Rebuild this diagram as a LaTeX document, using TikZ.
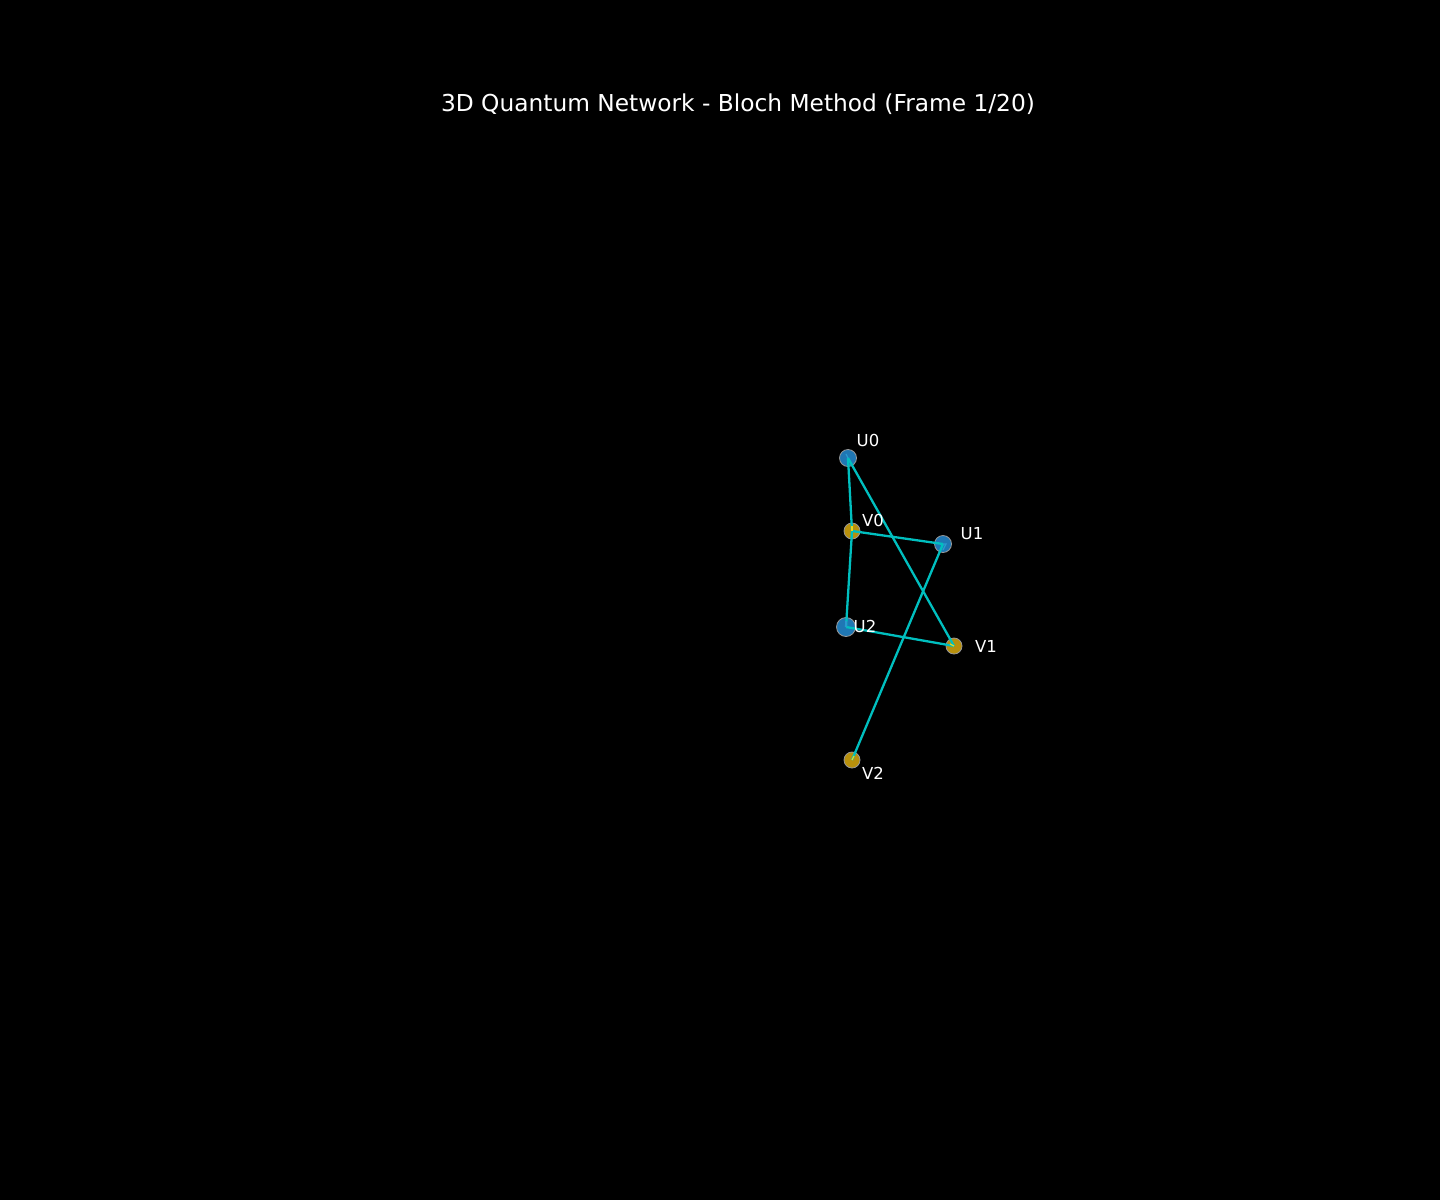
\documentclass[tikz,border=0pt]{standalone}
\usepackage{fontspec}
\setmainfont{DejaVu Sans}
\definecolor{edgec}{HTML}{00BFBF}
\definecolor{ublue}{HTML}{1F77B4}
\definecolor{vgold}{HTML}{B8900C}
\begin{document}
\begin{tikzpicture}[x=1pt,y=-1pt,
  unode/.style={circle,fill=ublue,draw=gray!80,line width=0.8pt,minimum size=17pt,inner sep=0pt},
  vnode/.style={circle,fill=vgold,draw=gray!80,line width=0.8pt,minimum size=16pt,inner sep=0pt},
  lbl/.style={text=white,font=\fontsize{16.5}{16.5}\selectfont,inner sep=0pt},
  link/.style={draw=edgec,line width=2.3pt},
  vec/.style={line width=1.2pt}]
\fill[black] (0,0) rectangle (1440,1200);
\useasboundingbox (0,0) rectangle (1440,1200);
\node[text=white,font=\fontsize{23.3}{23.3}\selectfont] (title) at (738,104) {3D Quantum Network - Bloch Method (Frame 1/20)};
\node[unode] (U0) at (848,458) {};
\node[vnode] (V0) at (852,531) {};
\node[unode] (U1) at (943,544) {};
\node[unode,minimum size=19pt] (U2) at (846,627) {};
\node[vnode] (V1) at (954,646) {};
\node[vnode] (V2) at (852,760) {};
\draw[link] (U0.center) -- (V0.center);
\draw[link] (U0.center) -- (V1.center);
\draw[link] (V0.center) -- (U1.center);
\draw[link] (V0.center) -- (U2.center);
\draw[link] (U2.center) -- (V1.center);
\draw[link] (U1.center) -- (V2.center);
\draw[vec,draw=cyan!60!ublue] (U0.center) -- ++(-2,-4);
\draw[vec,draw=cyan!60!ublue] (U1.center) -- ++(3,0) -- ++(-3,6);
\draw[vec,draw=cyan!60!ublue] (U2.center) -- ++(0,-6);
\draw[vec,draw=yellow!70!vgold] (V0.center) -- ++(0,-5);
\draw[vec,draw=yellow!70!vgold] (V1.center) -- ++(-4,-2);
\draw[vec,draw=yellow!70!vgold] (V2.center) -- ++(2,-4);
\node[lbl] (lU0) at (868,440) {U0};
\node[lbl] (lV0) at (873,520) {V0};
\node[lbl] (lU1) at (972,534) {U1};
\node[lbl] (lU2) at (865,626) {U2};
\node[lbl] (lV1) at (986,646) {V1};
\node[lbl] (lV2) at (873,773) {V2};
\end{tikzpicture}
\end{document}
